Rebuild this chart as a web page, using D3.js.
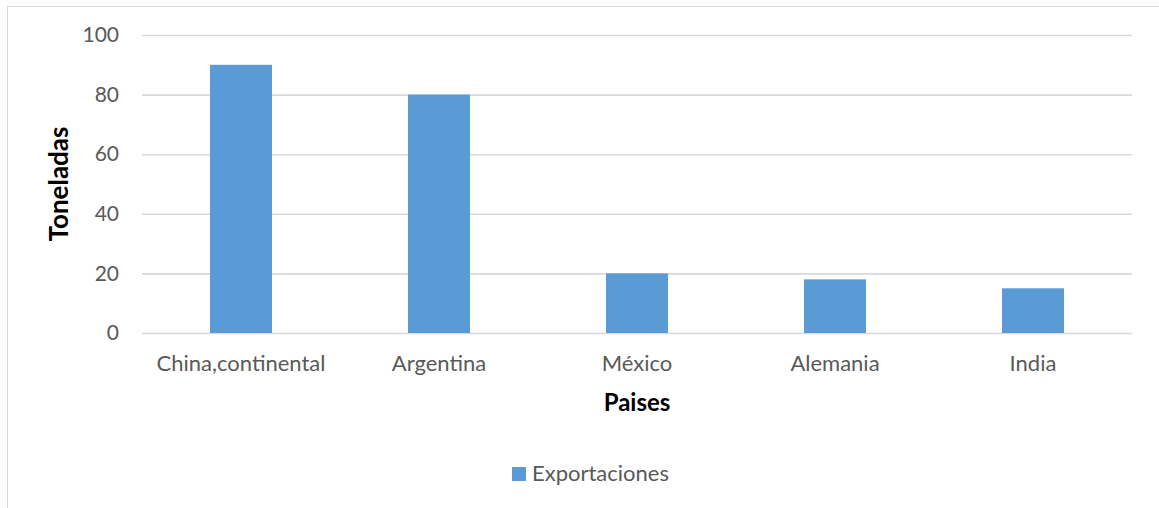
<!DOCTYPE html>
<html>
<head>
<meta charset="utf-8">
<script src="https://cdn.jsdelivr.net/npm/d3@7"></script>
<style>
  html, body { margin: 0; padding: 0; background: #fff; }
  svg { display: block; }
  text { font-family: Lato, "Open Sans", sans-serif; }
</style>
</head>
<body>
<svg id="chart" width="1159" height="508"></svg>
<script>
// Exportaciones por país (toneladas)
const categories = ["China,continental", "Argentina", "México", "Alemania", "India"];
const exportaciones = [90, 80, 20, 18, 15];
const yTicks = [0, 20, 40, 60, 80, 100];
const seriesName = "Exportaciones";
const xTitle = "Paises";
const yTitle = "Toneladas";

const svg = d3.select("#chart");
const plot = { left: 142, right: 1132, top: 35, bottom: 333 };
const barColor = "#5b9bd5";
const gridColor = "#d9d9d9";
const labelColor = "#595959";

// chart area frame (runs off the right and bottom edges)
svg.append("rect")
  .attr("x", 7.5).attr("y", 6.5)
  .attr("width", 1300).attr("height", 600)
  .attr("fill", "none").attr("stroke", gridColor).attr("stroke-width", 1);

const x = d3.scaleBand()
  .domain(categories)
  .range([plot.left, plot.right])
  .paddingInner(0.687)
  .paddingOuter(0.3435);

const y = d3.scaleLinear()
  .domain([0, 100])
  .range([plot.bottom, plot.top]);

// value axis with gridlines
const yAxis = svg.append("g")
  .attr("transform", `translate(${plot.left},0)`)
  .call(d3.axisLeft(y).tickValues(yTicks).tickSize(-(plot.right - plot.left)).tickPadding(23));
yAxis.select(".domain").remove();
yAxis.selectAll(".tick line").attr("stroke", gridColor).attr("stroke-width", 1.6);
yAxis.selectAll(".tick text")
  .attr("fill", labelColor).attr("font-size", 21);

// bars
svg.append("g").selectAll("rect")
  .data(exportaciones)
  .join("rect")
  .attr("x", (d, i) => x(categories[i]))
  .attr("y", d => y(d))
  .attr("width", x.bandwidth())
  .attr("height", d => y(0) - y(d))
  .attr("fill", barColor);

// category axis
const xAxis = svg.append("g")
  .attr("transform", `translate(0,${plot.bottom})`)
  .call(d3.axisBottom(x).tickSize(0).tickPadding(22));
xAxis.select(".domain").remove();
xAxis.selectAll(".tick text")
  .attr("fill", labelColor).attr("font-size", 22);

// axis titles
svg.append("text")
  .attr("x", (plot.left + plot.right) / 2).attr("y", 411)
  .attr("text-anchor", "middle")
  .attr("font-size", 24).attr("font-weight", "bold").attr("fill", "#000")
  .text(xTitle);

svg.append("text")
  .attr("transform", `translate(68,${(plot.top + plot.bottom) / 2}) rotate(-90)`)
  .attr("text-anchor", "middle")
  .attr("font-size", 26).attr("font-weight", "bold").attr("fill", "#000")
  .text(yTitle);

// legend
const legend = svg.append("g").attr("transform", "translate(512,467)");
legend.append("rect").attr("width", 14).attr("height", 14).attr("fill", barColor);
legend.append("text")
  .attr("x", 20).attr("y", 14)
  .attr("font-size", 22).attr("fill", labelColor)
  .text(seriesName);
</script>
</body>
</html>
